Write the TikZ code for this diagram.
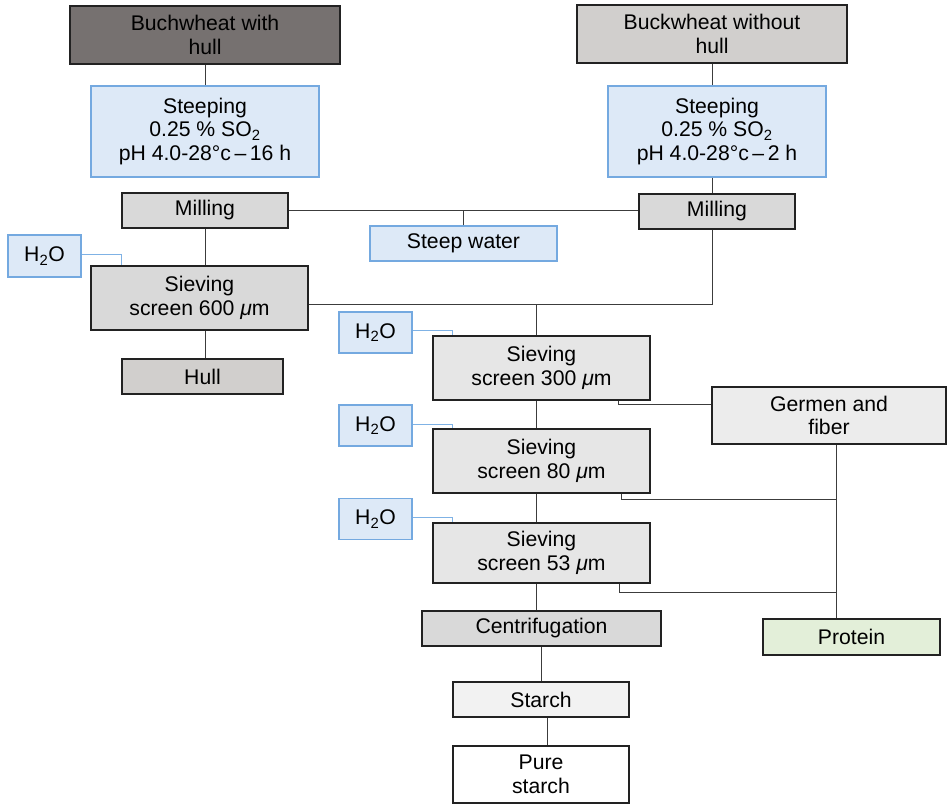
\documentclass[tikz,border=0pt]{standalone}
\usepackage{fontspec}
\setmainfont{Liberation Sans}
\usetikzlibrary{calc}
\definecolor{boxline}{RGB}{34,34,34}
\definecolor{blueline}{RGB}{116,169,224}
\definecolor{bluefill}{RGB}{221,233,247}
\definecolor{blueconn}{RGB}{127,178,229}
\definecolor{connc}{RGB}{60,60,60}
\definecolor{darkfill}{RGB}{118,113,112}
\definecolor{warmgray}{RGB}{209,207,205}
\definecolor{midgray}{RGB}{217,217,217}
\definecolor{sievegray}{RGB}{230,230,230}
\definecolor{germgray}{RGB}{236,236,236}
\definecolor{starchfill}{RGB}{242,242,242}
\definecolor{protfill}{RGB}{227,239,217}
\newcommand{\mum}{{\itshape μ}m}
\begin{document}
\begin{tikzpicture}[x=1pt,y=-1pt,
  base/.style={rectangle, draw=boxline, line width=1.2pt, inner sep=0pt, align=center,
    font=\fontsize{21.2}{23.7}\selectfont, text=black},
  bbox/.style={base, draw=blueline, fill=bluefill, line width=1.2pt},
  sz/.style 2 args={minimum width=#1pt, minimum height=#2pt},
  conn/.style={draw=connc, line width=0.8pt},
  wconn/.style={draw=blueconn, line width=0.8pt}]
\useasboundingbox (0,0) rectangle (948,804);

% left column
\node[base, fill=darkfill, sz={270}{58}] (b1) at (205,35) {Buchwheat with\\hull};
\node[bbox, sz={228}{91}] (s1) at (205,131.5) {Steeping\\0.25 \% SO\textsubscript{2}\\pH 4.0-28°c\,–\,16 h};
\node[base, fill=midgray, sz={166}{35}] (m1) at (205,210.5) {Milling};
\node[bbox, sz={73}{42}] (w1) at (44.5,256) {H\textsubscript{2}O};
\node[base, fill=midgray, sz={217}{64}] (sv1) at (199.5,298) {Sieving\\screen 600 \mum};
\node[base, fill=warmgray, sz={161}{35}] (hull) at (202.5,376.5) {Hull};
\node[bbox, sz={187}{35}] (sw) at (463.5,243.5) {Steep water};

% right column
\node[base, fill=warmgray, sz={270}{58}] (b2) at (712,34) {Buckwheat without\\hull};
\node[bbox, sz={218}{91}] (s2) at (717,131.5) {Steeping\\0.25 \% SO\textsubscript{2}\\pH 4.0-28°c\,–\,2 h};
\node[base, fill=midgray, sz={156}{35}] (m2) at (717,211.5) {Milling};

% sieving chain
\node[bbox, sz={73}{41}] (w2) at (375.5,332.5) {H\textsubscript{2}O};
\node[base, fill=sievegray, sz={217}{64}] (sv2) at (541.5,368) {Sieving\\screen 300 \mum};
\node[bbox, sz={73}{41}] (w3) at (375.5,425.5) {H\textsubscript{2}O};
\node[base, fill=sievegray, sz={217}{64}] (sv3) at (541.5,461) {Sieving\\screen 80 \mum};
\node[bbox, sz={73}{41}] (w4) at (375.5,519) {H\textsubscript{2}O};
\node[base, fill=sievegray, sz={217}{60}] (sv4) at (541.5,553) {Sieving\\screen 53 \mum};
\node[base, fill=germgray, sz={234}{57}] (germ) at (829,415.5) {Germen and\\fiber};
\node[base, fill=protfill, sz={177}{36}] (prot) at (851.5,637) {Protein};
\node[base, fill=midgray, sz={239}{35}] (cent) at (541.5,628.5) {Centrifugation};
\node[base, fill=starchfill, sz={176}{35}] (starch) at (541,699.5) {Starch};
\node[base, fill=white, sz={176}{57}] (pure) at (541,774.5) {Pure\\starch};

% helper coordinates
\coordinate (spine) at (536,304);
\coordinate (lv) at (205,0);
\coordinate (rv) at (712,0);
\coordinate (pv) at (836,0);
\coordinate (e3) at (836,499);
\coordinate (e4) at (836,592);

% connectors, left
\draw[conn] (b1.south) -- (s1.north);
\draw[conn] (lv |- m1.south) -- (lv |- sv1.north);
\draw[conn] (lv |- sv1.south) -- (lv |- hull.north);
\draw[wconn] ([yshift=2pt]w1.east) -| (m1.south west |- sv1.north);
\draw[conn] (m1.east) -- (m1.east -| m2.west);
\draw[conn] (sw.north) -- (sw.north |- m1.east);

% connectors, right
\draw[conn] (rv |- b2.south) -- (rv |- s2.north);
\draw[conn] (rv |- s2.south) -- (rv |- m2.north);
\draw[conn] (rv |- m2.south) |- (sv1.east |- spine);
\draw[conn] (spine) -- (spine |- sv2.north);

% sieving chain
\draw[wconn] ([yshift=2pt]w2.east) -| ([xshift=20pt]sv2.north west);
\draw[wconn] ([yshift=1pt]w3.east) -| ([xshift=20pt]sv3.north west);
\draw[wconn] ([yshift=2pt]w4.east) -| ([xshift=20pt]sv4.north west);
\draw[conn] (spine |- sv2.south) -- (spine |- sv3.north);
\draw[conn] (spine |- sv3.south) -- (spine |- sv4.north);
\draw[conn] (spine |- sv4.south) -- (spine |- cent.north);
\draw[conn] (cent.south) -- (cent.south |- starch.north);
\draw[conn] ([xshift=6pt]starch.south) -- ([xshift=6pt]pure.north);

% side streams
\draw[conn] ([xshift=-32pt]sv2.south east) |- ([yshift=11.5pt]germ.west);
\draw[conn] ([xshift=-29pt]sv3.south east) |- (e3);
\draw[conn] ([xshift=-31pt]sv4.south east) |- (e4);
\draw[conn] (pv |- germ.south) -- (pv |- prot.north);
\end{tikzpicture}
\end{document}
